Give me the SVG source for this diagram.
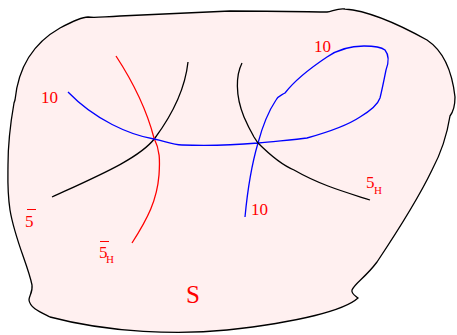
<svg xmlns="http://www.w3.org/2000/svg" width="457" height="335" viewBox="0 0 457 335">
<style>
.ln{fill:none;stroke-width:1.3}
.k{stroke:#000}.r{stroke:#f00}.b{stroke:#00f}
text{font-family:"Liberation Serif","Times New Roman",serif;fill:#f00}
.t{font-size:17px}.sub{font-size:11px}
</style>
<g id="region">
<path d="M88,17 C95,18 100,17 120,16 L230,11 C280,11 315,12 327,12 C333,11 338,8 345,9 C370,11 400,25 427,40 C442,50 452,70 455,97 C455,108 453,112 450,116 C447,135 440,155 432,170 C420,195 395,235 377,262 C365,278 355,283 352,290 C351,294 356,296 358,298 C345,310 300,322 227,330 C180,335 110,333 50,317 C40,312 30,308 29,300 C29,296 33,292 32,285 C28,265 15,240 10,210 C7,190 8,175 8,165 C8,140 11,120 14,103 L15,100 C18,70 30,45 60,28 C75,20 82,17 88,17 Z" fill="#fff0f0" stroke="#000" stroke-width="1.3"/>
</g>
<g id="connectors">
<path class="ln k" d="M52,197 C100,175 140,158 155,138 C172,115 185,90 188,62"/>
<path class="ln r" d="M116,56 C135,85 148,115 154,138 C160,150 160,160 159,175 C157,200 148,218 132,243"/>
<path class="ln b" d="M68,92 C95,120 130,135 154,139 C165,141 172,145 182,145 C205,146 235,145 258,143 C275,141 295,140 307,138 C325,133 345,127 360,117 C370,111 378,104 380,98 C382,90 384,80 386,70 C389,62 389,55 385,50 C380,46 370,46 364,46 C355,46 340,48 327,57 C315,65 295,80 285,93 C280,96 278,96 276,100 C268,112 262,128 258,143 C253,160 248,185 245,217"/>
<path class="ln k" d="M242,63 C236,75 235,95 244,117 C247,124 250,130 254,137 L258,143 C270,155 282,165 294,170 C320,185 345,192 370,200"/>
</g>
<g id="labels">
<text class="t" x="41" y="103">10</text>
<text class="t" x="314" y="52">10</text>
<text class="t" x="251" y="215">10</text>
<g id="l5bar"><text class="t" x="25" y="227">5</text><line x1="27" y1="209.5" x2="36" y2="209.5" stroke="#f00" stroke-width="1"/></g>
<g id="l5barH"><text class="t" x="99" y="258">5</text><text class="sub" x="106" y="263">H</text><line x1="100" y1="241.5" x2="109" y2="241.5" stroke="#f00" stroke-width="1"/></g>
<g id="l5H"><text class="t" x="366" y="188">5</text><text class="sub" x="374" y="194">H</text></g>
<text x="186" y="303" style="font-size:25px">S</text>
</g>
</svg>
